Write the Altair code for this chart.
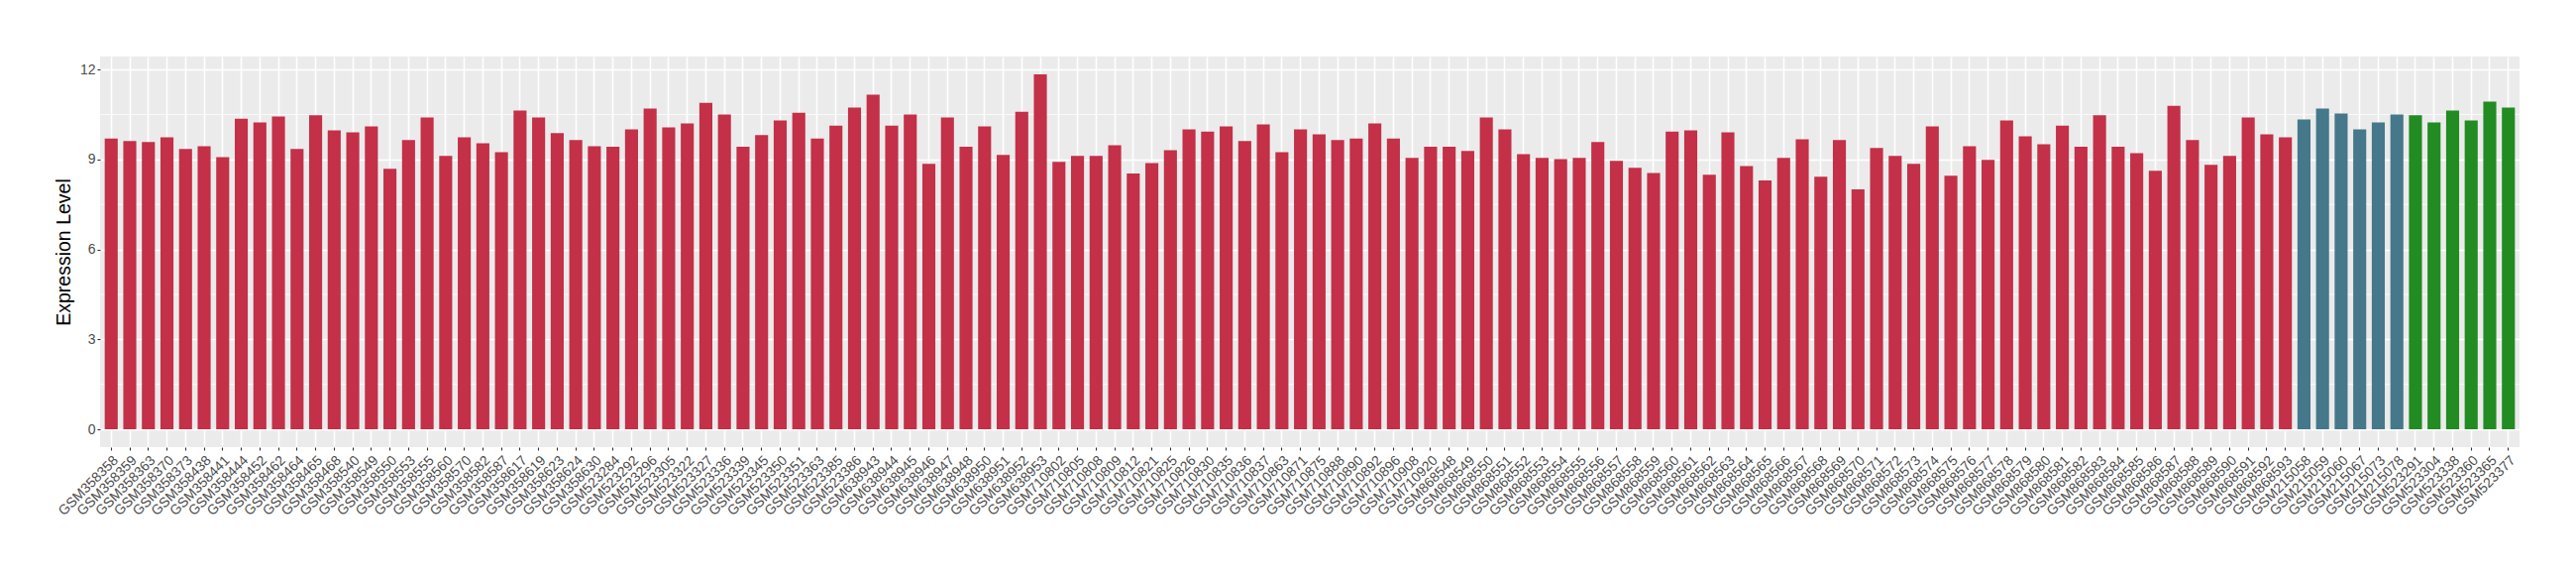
import altair as alt
import pandas as pd

samples_a = [
    "GSM358358", "GSM358359", "GSM358363", "GSM358370", "GSM358373", "GSM358438", "GSM358441", "GSM358444",
    "GSM358452", "GSM358462", "GSM358464", "GSM358465", "GSM358468", "GSM358540", "GSM358549", "GSM358550",
    "GSM358553", "GSM358555", "GSM358560", "GSM358570", "GSM358582", "GSM358587", "GSM358617", "GSM358619",
    "GSM358623", "GSM358624", "GSM358630", "GSM523284", "GSM523292", "GSM523296", "GSM523305", "GSM523322",
    "GSM523327", "GSM523336", "GSM523339", "GSM523345", "GSM523350", "GSM523351", "GSM523363", "GSM523385",
    "GSM523386", "GSM638943", "GSM638944", "GSM638945", "GSM638946", "GSM638947", "GSM638948", "GSM638950",
    "GSM638951", "GSM638952", "GSM638953", "GSM710802", "GSM710805", "GSM710808", "GSM710809", "GSM710812",
    "GSM710821", "GSM710825", "GSM710826", "GSM710830", "GSM710835", "GSM710836", "GSM710837", "GSM710863",
    "GSM710871", "GSM710875", "GSM710888", "GSM710890", "GSM710892", "GSM710896", "GSM710908", "GSM710920",
    "GSM868548", "GSM868549", "GSM868550", "GSM868551", "GSM868552", "GSM868553", "GSM868554", "GSM868555",
    "GSM868556", "GSM868557", "GSM868558", "GSM868559", "GSM868560", "GSM868561", "GSM868562", "GSM868563",
    "GSM868564", "GSM868565", "GSM868566", "GSM868567", "GSM868568", "GSM868569", "GSM868570", "GSM868571",
    "GSM868572", "GSM868573", "GSM868574", "GSM868575", "GSM868576", "GSM868577", "GSM868578", "GSM868579",
    "GSM868580", "GSM868581", "GSM868582", "GSM868583", "GSM868584", "GSM868585", "GSM868586", "GSM868587",
    "GSM868588", "GSM868589", "GSM868590", "GSM868591", "GSM868592", "GSM868593",
]
values_a = [
    9.70, 9.61, 9.58, 9.74, 9.35, 9.44, 9.08, 10.36,
    10.23, 10.43, 9.35, 10.47, 9.97, 9.90, 10.10, 8.69,
    9.65, 10.40, 9.12, 9.74, 9.54, 9.24, 10.63, 10.40,
    9.88, 9.65, 9.44, 9.42, 10.00, 10.70, 10.07, 10.20,
    10.89, 10.50, 9.42, 9.81, 10.30, 10.56, 9.70, 10.13,
    10.73, 11.16, 10.13, 10.50, 8.85, 10.40, 9.42, 10.10,
    9.15, 10.59, 11.84, 8.92, 9.12, 9.12, 9.47, 8.53,
    8.88, 9.31, 10.00, 9.93, 10.10, 9.61, 10.17, 9.24,
    10.00, 9.84, 9.65, 9.70, 10.20, 9.70, 9.05, 9.42,
    9.42, 9.28, 10.40, 10.00, 9.18, 9.05, 9.01, 9.05,
    9.58, 8.95, 8.72, 8.55, 9.93, 9.97, 8.49, 9.90,
    8.78, 8.30, 9.05, 9.67, 8.42, 9.65, 8.00, 9.38,
    9.12, 8.85, 10.10, 8.46, 9.44, 8.99, 10.30, 9.77,
    9.51, 10.13, 9.42, 10.47, 9.42, 9.21, 8.62, 10.79,
    9.65, 8.82, 9.12, 10.40, 9.84, 9.74,
]
samples_b = ["GSM215058", "GSM215059", "GSM215060", "GSM215067", "GSM215073", "GSM215078"]
values_b = [10.33, 10.70, 10.53, 10.00, 10.23, 10.50]
samples_c = ["GSM523291", "GSM523304", "GSM523338", "GSM523360", "GSM523365", "GSM523377"]
values_c = [10.47, 10.23, 10.63, 10.30, 10.93, 10.73]

groups = ["A", "B", "C"]
colors = ["#C33048", "#44788A", "#228B22"]
major_breaks = [0, 3, 6, 9, 12]
minor_breaks = [1.5, 4.5, 7.5, 10.5]

rows = []
for g, s, v in zip(groups, [samples_a, samples_b, samples_c], [values_a, values_b, values_c]):
    rows += [{"sample": a, "value": b, "group": g} for a, b in zip(s, v)]
df = pd.DataFrame(rows)
order = list(df["sample"])
vmax = float(df["value"].max())
ydom = [-0.05 * vmax, 1.05 * vmax]
minor_df = pd.DataFrame({"v": minor_breaks})

W, H = 2442, 394
FONT = "Liberation Sans"

yscale = alt.Scale(domain=ydom, nice=False, zero=False)
yaxis = alt.Axis(
    values=major_breaks, title="Expression Level",
    titleFontSize=19.5, titleFont=FONT, titleColor="black", titleFontWeight="normal",
    titleAngle=270, titleX=-31, titleY=H / 2, titleAlign="center", titleBaseline="alphabetic",
    labelFontSize=14, labelFont=FONT, labelColor="#4D4D4D", labelPadding=2,
    tickSize=3, tickColor="#333333", tickWidth=1.1,
    domain=False, grid=True, gridColor="white", gridWidth=1.6,
)

minor = alt.Chart(minor_df).mark_rule(color="white", strokeWidth=0.8).encode(
    y=alt.Y("v:Q", scale=yscale, axis=yaxis, title="Expression Level")
)

bars = alt.Chart(df).mark_bar().encode(
    x=alt.X(
        "sample:N",
        sort=order,
        title=None,
        scale=alt.Scale(paddingInner=0.3, paddingOuter=0.25),
        axis=alt.Axis(
            labelAngle=315, labelAlign="right", labelBaseline="top",
            labelFontSize=14, labelColor="#4D4D4D", labelFont=FONT,
            labelPadding=3, labelOverlap=False, labelLimit=400,
            tickSize=3, tickColor="#333333", tickWidth=1.1,
            domain=False, grid=True, gridColor="white", gridWidth=1.6,
            bandPosition=0.5,
        ),
    ),
    y=alt.Y("value:Q", scale=yscale, axis=yaxis, title="Expression Level"),
    color=alt.Color("group:N", scale=alt.Scale(domain=groups, range=colors), legend=None),
)

chart = alt.layer(minor, bars).properties(
    width=W, height=H,
    background="white",
    padding={"left": 93, "top": 49, "right": 40, "bottom": 100},
    autosize=alt.AutoSizeParams(type="none"),
).configure_view(fill="#EBEBEB", strokeWidth=0)

chart.save("out.html", embed_options={"renderer": "svg", "actions": False})
